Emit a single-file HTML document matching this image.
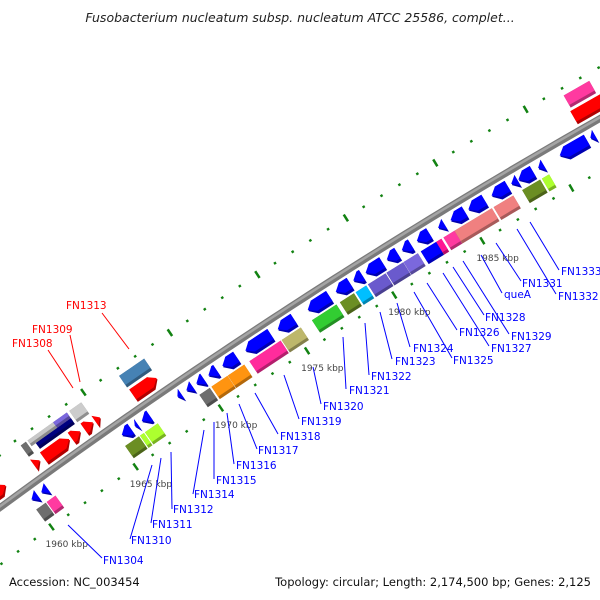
<!DOCTYPE html>
<html><head><meta charset="utf-8">
<style>
html,body{margin:0;padding:0;background:#fff;}
svg{display:block;}
.lbl{font-family:"DejaVu Sans","Liberation Sans",sans-serif;font-size:10.5px;}
.tk{font-family:"DejaVu Sans","Liberation Sans",sans-serif;font-size:9px;fill:#444;}
</style></head>
<body>
<svg id="map" width="600" height="600" viewBox="0 0 600 600" xmlns="http://www.w3.org/2000/svg">
<text x="300" y="22" text-anchor="middle" font-family="'DejaVu Sans','Liberation Sans',sans-serif" font-style="italic" font-size="12.5" fill="#222">Fusobacterium nucleatum subsp. nucleatum ATCC 25586, complet...</text>
<g id="ticks"></g>
<g id="backbone"></g>
<g id="genes"></g>
<g id="labels"></g>
<text x="9" y="586" font-family="'DejaVu Sans','Liberation Sans',sans-serif" font-size="11.5" fill="#111">Accession: NC_003454</text>
<text x="591" y="586" text-anchor="end" font-family="'DejaVu Sans','Liberation Sans',sans-serif" font-size="11.5" fill="#111">Topology: circular; Length: 2,174,500 bp; Genes: 2,125</text>
</svg>
<script>
// ---- data (kbp) ----
const tickStartKb = 1956;
const tickEndKb = 1997;
const tickLabels = [1960, 1965, 1970, 1975, 1980, 1985];
// reverse strand genes (inner lane 1): [start, end]
const reverseGenes = [[1960.0,1960.35],[1960.58,1960.93],[1965.33,1965.86],[1966.09,1966.25],[1966.5,1966.96],[1968.58,1968.8],[1969.1,1969.45],[1969.68,1970.1],[1970.38,1970.85],[1971.19,1972.0],[1972.52,1973.97],[1974.38,1975.3],[1976.1,1977.33],[1977.7,1978.5],[1978.7,1979.2],[1979.4,1980.35],[1980.6,1981.2],[1981.45,1981.97],[1982.3,1983.0],[1983.5,1983.85],[1984.2,1985.0],[1985.2,1986.1],[1986.5,1987.4],[1987.6,1987.95],[1988.0,1988.8],[1989.1,1989.4],[1990.3,1991.8],[1992.0,1992.25]];
// reverse strand COG boxes (inner lane 2): [start, end, colour]
const reverseCog = [[1959.9,1960.46,'#6e6e6e'],[1960.52,1961.04,'#ff3aa0'],[1965.16,1965.97,'#6b8e23'],[1966.03,1966.26,'#adff2f'],[1966.32,1967.07,'#adff2f'],[1969.5,1970.1,'#6e6e6e'],[1970.2,1971.13,'#ff9410'],[1971.15,1972.1,'#ff9410'],[1972.4,1974.2,'#ff2c9c'],[1974.26,1975.36,'#bdb76b'],[1976.0,1977.4,'#32cd32'],[1977.6,1978.4,'#6b8e23'],[1978.5,1979.1,'#00bfff'],[1979.2,1980.2,'#6a5acd'],[1980.25,1981.2,'#6a5acd'],[1981.22,1982.03,'#7b68dd'],[1982.2,1983.07,'#0000ff'],[1983.07,1983.36,'#ff1493'],[1983.48,1984.1,'#ff3aa0'],[1984.1,1986.2,'#f08080'],[1986.3,1987.4,'#f08080'],[1987.9,1988.9,'#6b8e23'],[1989.0,1989.4,'#adff2f']];
// forward strand genes (outer lane 1)
const forwardGenes = [[1957.5,1959.4],[1961.07,1961.42],[1961.65,1963.16],[1963.28,1963.8],[1964.03,1964.55],[1964.67,1964.96],[1966.87,1968.26],[1991.8,1994.5]];
// forward strand COG boxes (outer lane 2): [start, end, colour, part]
const forwardCog = [[1961.1,1961.4,'#6e6e6e','full'],[1961.5,1963.0,'#c8c8c8','outer'],[1963.0,1963.8,'#7b68dd','outer'],[1961.75,1963.8,'#000080','inner'],[1963.94,1964.64,'#cccccc','full'],[1966.84,1968.29,'#4682b4','full'],[1991.9,1993.3,'#ff3aa0','full']];
const labelText = ['FN1313','FN1309','FN1308','FN1304','FN1310','FN1311','FN1312','FN1314','FN1315','FN1316','FN1317','FN1318','FN1319','FN1320','FN1321','FN1322','FN1323','FN1324','FN1325','FN1326','FN1327','FN1328','FN1329','queA','FN1331','FN1332','FN1333'];
const labelPos = [[66,309,102,313,129,349],[32,333,70,335,80,382],[12,347,48,350,73,388],[103,564,102,558,68,525],[131,544,130,539,152,465],[152,528,151,523,161,458],[173,513,172,509,171,452],[194,498,193,494,204,430],[216,484,214,479,214,422],[236,469,234,464,227,413],[258,454,257,449,239,404],[280,440,278,434,255,393],[301,425,299,419,284,375],[323,410,321,404,313,367],[349,394,346,389,343,337],[371,380,369,375,365,323],[395,365,392,359,380,312],[413,352,410,347,397,303],[453,364,452,358,414,292],[459,336,457,330,427,283],[491,352,489,346,443,273],[485,321,484,315,453,267],[511,340,509,334,463,261],[504,298,502,293,481,255],[522,287,521,281,496,243],[558,300,556,294,517,229],[561,275,559,270,530,222]];
const labelRed = [true,true,true];

// ---- geometry ----
const CX=3611, CY=5419, R=6096, A0=-126.04, DEG=0.196;
function pt(kb,d){const t=(A0+(kb-1960)*DEG)*Math.PI/180;const r=R+d;return [CX+r*Math.cos(t),CY+r*Math.sin(t)];}
function P(a){return a.map(p=>p[0].toFixed(2)+','+p[1].toFixed(2)).join(' ');}
const NS='http://www.w3.org/2000/svg';
function mk(tag,attrs,parent){const e=document.createElementNS(NS,tag);for(const k in attrs)e.setAttribute(k,attrs[k]);parent.appendChild(e);return e;}
function shade(hex,f){const n=parseInt(hex.slice(1),16);let r=(n>>16)&255,g=(n>>8)&255,b=n&255;r=Math.round(r*f);g=Math.round(g*f);b=Math.round(b*f);return 'rgb('+r+','+g+','+b+')';}

// ticks
const tg=document.getElementById('ticks');
for(let kb=tickStartKb;kb<=tickEndKb;kb++){
  for(const d of [-46,45]){
    const major=kb%5===0;
    const h=major?4:1.2;
    const w=major?0.06:0.06;
    const a=pt(kb-w,d-h),b=pt(kb+w,d-h),c=pt(kb+w,d+h),e=pt(kb-w,d+h);
    const t=mk('polygon',{points:P([a,b,c,e]),fill:'#128212'},tg);
    
    
  }
}
tickLabels.forEach(kb=>{
  const p=pt(kb,-46);
  const t=mk('text',{x:(p[0]-6).toFixed(1),y:(p[1]+20).toFixed(1),class:'tk'},tg);
  t.textContent=kb+' kbp';
  
  
});

// backbone
const bg=document.getElementById('backbone');
let kbs=[];for(let kb=1955;kb<=1998;kb+=0.5)kbs.push(kb);
const bl1=mk('polyline',{points:P(kbs.map(k=>pt(k,0))),fill:'none',stroke:'#7a7a7a','stroke-width':7},bg);


const bl2=mk('polyline',{points:P(kbs.map(k=>pt(k,1))),fill:'none',stroke:'#a4a4a4','stroke-width':2.5},bg);



// genes
const gg=document.getElementById('genes');
function arrowPts(a,b,r1,r2,dir){
  const hk=0.36, len=b-a, m=(r1+r2)/2;
  if(len<=hk){ return dir<0?[pt(a,m),pt(b,r2),pt(b,r1)]:[pt(b,m),pt(a,r2),pt(a,r1)]; }
  if(dir<0) return [pt(a,m),pt(a+hk,r2),pt(b,r2),pt(b,r1),pt(a+hk,r1)];
  return [pt(b,m),pt(b-hk,r2),pt(a,r2),pt(a,r1),pt(b-hk,r1)];
}
function boxPts(a,b,r1,r2){return [pt(a,r1),pt(b,r1),pt(b,r2),pt(a,r2)];}
reverseGenes.forEach(g=>{
  const s=mk('polygon',{points:P(arrowPts(g[0],g[1],-21,-6,-1)),fill:'#0000b0'},gg);
  
  
  const e=mk('polygon',{points:P(arrowPts(g[0],g[1],-18,-6,-1)),fill:'#0000ff'},gg);
  
  
});
reverseCog.forEach(g=>{
  const s=mk('polygon',{points:P(boxPts(g[0],g[1],-38,-23)),fill:shade(g[2],0.7)},gg);
  
  
  const e=mk('polygon',{points:P(boxPts(g[0],g[1],-35,-23)),fill:g[2]},gg);
  
  
});
forwardGenes.forEach(g=>{
  const s=mk('polygon',{points:P(arrowPts(g[0],g[1],6,21,1)),fill:'#b00000'},gg);
  
  
  const e=mk('polygon',{points:P(arrowPts(g[0],g[1],9,21,1)),fill:'#ff0000'},gg);
  
  
});
forwardCog.forEach(g=>{
  let r1=24,r2=38;
  if(g[3]==='outer')r1=31; if(g[3]==='inner')r2=31;
  const s=mk('polygon',{points:P(boxPts(g[0],g[1],r1,r2)),fill:shade(g[2],0.7)},gg);
  
  
  const e=mk('polygon',{points:P(boxPts(g[0],g[1],r1+3,r2)),fill:g[2]},gg);
  
  
});

// labels
const lg=document.getElementById('labels');
labelText.forEach((txt,i)=>{
  const p=labelPos[i];const col=labelRed[i]?'#ff0000':'#0000ff';
  const l=mk('line',{x1:p[2],y1:p[3],x2:p[4],y2:p[5],stroke:col,'stroke-width':1},lg);
  
  
  const t=mk('text',{x:p[0],y:p[1],class:'lbl',fill:col},lg);
  t.textContent=txt;
  
  
});
</script>
</body></html>
